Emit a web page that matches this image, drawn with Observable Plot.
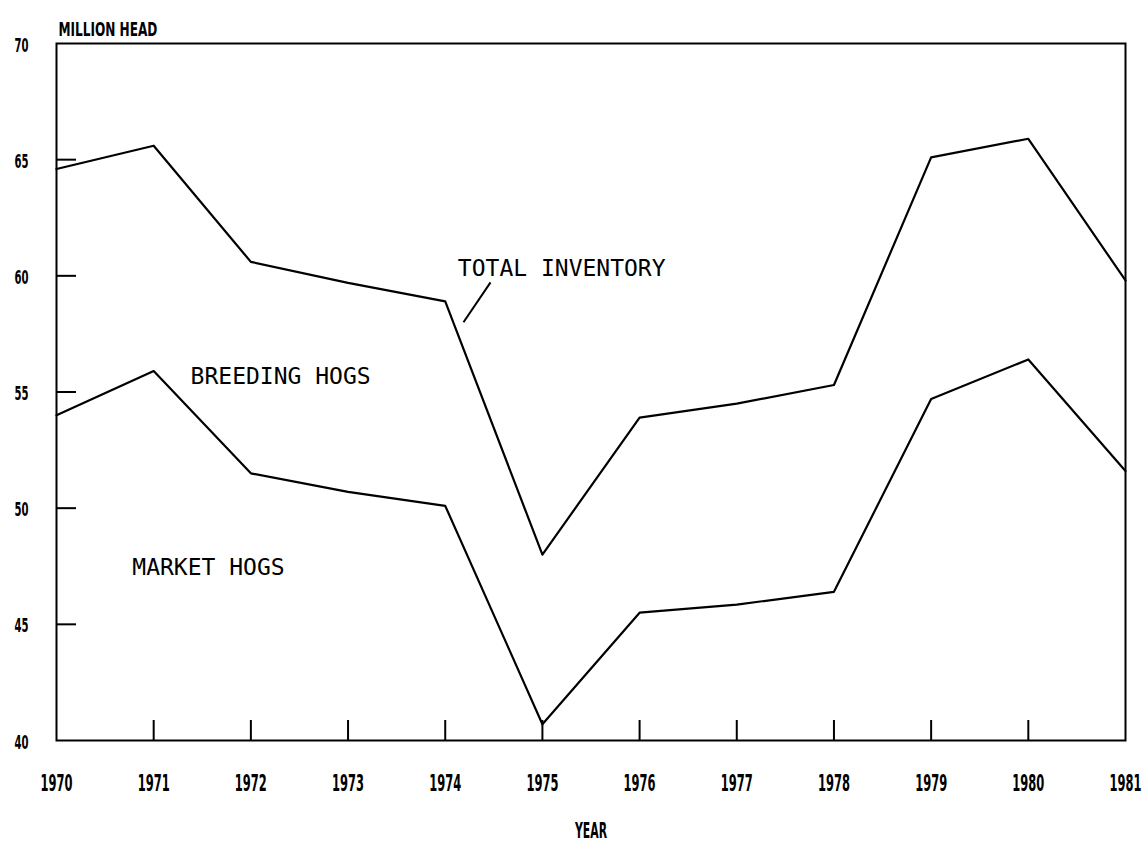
<!DOCTYPE html>
<html>
<head>
<meta charset="utf-8">
<script src="https://cdn.jsdelivr.net/npm/d3@7"></script>
<script src="https://cdn.jsdelivr.net/npm/@observablehq/plot@0.6"></script>
<style>
  body { margin: 0; background: #fff; }
  #chart svg { display: block; }
</style>
</head>
<body>
<div id="chart"></div>
<script>
// ---- data ----
const years = [1970, 1971, 1972, 1973, 1974, 1975, 1976, 1977, 1978, 1979, 1980, 1981];
const totalInventory = [64.6, 65.6, 60.6, 59.7, 58.9, 48.0, 53.9, 54.5, 55.3, 65.1, 65.9, 59.8];
const marketHogs     = [54.0, 55.9, 51.5, 50.7, 50.1, 40.7, 45.5, 45.85, 46.4, 54.7, 56.4, 51.6];
const yTicks = [40, 45, 50, 55, 60, 65, 70];
const xTicks = years;
const yAxisTitle = "MILLION HEAD";
const xAxisTitle = "YEAR";
const seriesLabels = ["TOTAL INVENTORY", "BREEDING HOGS", "MARKET HOGS"];

const rows = years.map((year, i) => ({year, total: totalInventory[i], market: marketHogs[i]}));

const W = 1145, H = 846;
const mL = 56, mT = 43, mR = 20, mB = 106;
const innerW = W - mL - mR, innerH = H - mT - mB;
const tickFont = "'DejaVu Sans Condensed', 'Liberation Sans Narrow', 'DejaVu Sans', sans-serif";
const plotterFont = "'DejaVu Sans Mono', 'Liberation Mono', monospace";

const chart = Plot.plot({
  width: W,
  height: H,
  marginLeft: mL,
  marginTop: mT,
  marginRight: mR,
  marginBottom: mB,
  x: {domain: [1970, 1981]},
  y: {domain: [40, 70]},
  style: {background: "#fff", color: "#000", fontFamily: tickFont},
  marks: [
    Plot.frame({stroke: "#000", strokeWidth: 2}),
    // inward tick marks
    Plot.tickX(xTicks.slice(1, -1), {x: d => d, insetTop: innerH - 20, stroke: "#000", strokeWidth: 2}),
    Plot.tickY(yTicks.slice(1, -1), {y: d => d, insetRight: innerW - 20, stroke: "#000", strokeWidth: 2}),
    // tick labels
    Plot.axisX(xTicks, {tickSize: 0, tickPadding: 34, tickFormat: "d", label: null,
      fontSize: 23, fontWeight: "bold", fontFamily: tickFont, fill: "#000"}),
    Plot.axisY(yTicks, {tickSize: 0, tickPadding: 28, tickFormat: "d", label: null,
      fontSize: 19, fontWeight: "bold", fontFamily: tickFont, fill: "#000", dy: 2}),
    // axis titles
    Plot.text([yAxisTitle], {frameAnchor: "top-left", text: d => d, dx: 2, dy: -22, textAnchor: "start",
      fontSize: 20, fontWeight: "bold", fontFamily: tickFont, fill: "#000"}),
    Plot.text([xAxisTitle], {frameAnchor: "bottom", text: d => d, dy: 97,
      fontSize: 21, fontWeight: "bold", fontFamily: tickFont, fill: "#000"}),
    // series lines
    Plot.line(rows, {x: "year", y: "total", stroke: "#000", strokeWidth: 2.2}),
    Plot.line(rows, {x: "year", y: "market", stroke: "#000", strokeWidth: 2.2}),
    // annotations
    Plot.text([seriesLabels[0]], {x: 1974.13, y: 60.32, text: d => d, textAnchor: "start",
      fontSize: 23, fontFamily: plotterFont, fill: "#000"}),
    Plot.link([{x1: 1974.466, y1: 59.72, x2: 1974.188, y2: 58.0}], {x1: "x1", y1: "y1", x2: "x2", y2: "y2",
      stroke: "#000", strokeWidth: 2}),
    Plot.text([seriesLabels[1]], {x: 1971.38, y: 55.67, text: d => d, textAnchor: "start",
      fontSize: 23, fontFamily: plotterFont, fill: "#000"}),
    Plot.text([seriesLabels[2]], {x: 1970.78, y: 47.45, text: d => d, textAnchor: "start",
      fontSize: 23, fontFamily: plotterFont, fill: "#000"})
  ]
});

document.getElementById("chart").appendChild(chart);

// squeeze the bold labels horizontally, like the narrow plotter lettering
function squeeze(sel, target) {
  sel.each(function () {
    const w = this.getComputedTextLength();
    const t = this.getAttribute("transform");
    const xAttr = +(this.getAttribute("x") || 0);
    if (w > 0 && t && !xAttr) {
      this.setAttribute("transform", `${t} scale(${(target / w).toFixed(4)},1)`);
    } else {
      this.setAttribute("textLength", target);
      this.setAttribute("lengthAdjust", "spacingAndGlyphs");
    }
  });
}
const svg = d3.select(chart);
squeeze(svg.selectAll('g[aria-label="x-axis tick label"] text'), 32);
squeeze(svg.selectAll('g[aria-label="y-axis tick label"] text'), 14);
squeeze(svg.selectAll("text").filter(function () { return this.textContent === yAxisTitle; }), 99);
squeeze(svg.selectAll("text").filter(function () { return this.textContent === xAxisTitle; }), 32);
</script>
</body>
</html>
